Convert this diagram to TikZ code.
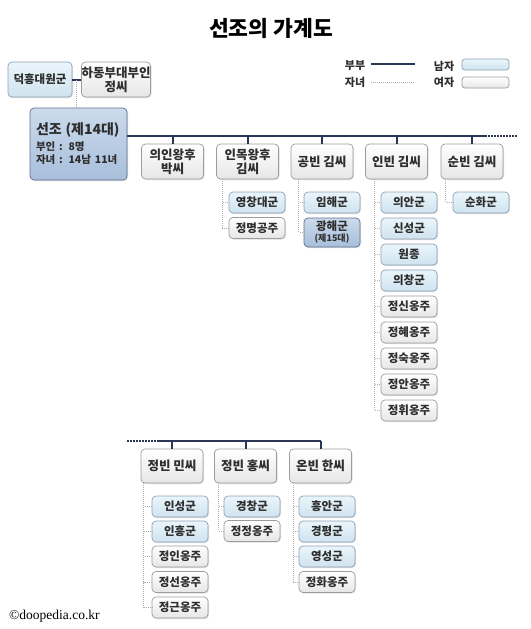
\documentclass[tikz,border=0pt]{standalone}
\usepackage{fontspec}
\setmainfont{Noto Sans CJK KR}
\newfontfamily\latinserif{Liberation Serif}
\usetikzlibrary{shadows,calc}
\definecolor{navy}{HTML}{2B3656}
\definecolor{txt}{HTML}{2E2E2E}
\definecolor{maletop}{HTML}{EAF5FB}
\definecolor{malebot}{HTML}{CFE3EF}
\definecolor{maledraw}{HTML}{8FA2B6}
\definecolor{femtop}{HTML}{FFFFFF}
\definecolor{fembot}{HTML}{E6E6E6}
\definecolor{femdraw}{HTML}{9C9C9C}
\definecolor{kingtop}{HTML}{CCDBEC}
\definecolor{kingbot}{HTML}{A8BEDB}
\definecolor{kingdraw}{HTML}{5F7291}
\definecolor{dotgray}{HTML}{B0B0B0}
\begin{document}
\begin{tikzpicture}[x=1pt,y=-1pt,
  font=\bfseries\fontsize{11.5}{13}\selectfont, text=txt,
  box/.style={rounded corners=4pt, draw, line width=0.7pt, inner sep=0pt, align=center,
    drop shadow={shadow xshift=1pt, shadow yshift=-1pt, opacity=0.25}},
  male/.style={box, draw=maledraw, top color=maletop, bottom color=malebot, minimum width=56, minimum height=21},
  female/.style={box, draw=femdraw, top color=femtop, bottom color=fembot, minimum width=56, minimum height=21},
  king/.style={box, draw=kingdraw, top color=kingtop, bottom color=kingbot},
  wife/.style={female, minimum width=62, minimum height=35, font=\bfseries\fontsize{12.5}{14}\selectfont},
  spouse/.style={draw=navy, line width=2pt},
  spousedot/.style={draw=navy, line width=1.6pt, dash pattern=on 1.6pt off 1.4pt},
  kid/.style={draw=dotgray, line width=0.8pt, dash pattern=on 1pt off 1pt},
  legbox/.style={rounded corners=3pt, draw, line width=0.7pt, minimum width=47, minimum height=11, inner sep=0pt},
  legtext/.style={font=\bfseries\fontsize{11}{12}\selectfont}
]
\useasboundingbox[fill=white] (0,0) rectangle (530,629);

% title
\node[font=\bfseries\fontsize{21.5}{24}\selectfont, text=black] (title) at (271,28) {선조의 가계도};

% legend
\node[legtext] (lg1) at (355,66) {부부};
\node[legtext] (lg2) at (355,82) {자녀};
\coordinate (lgs1) at (371,64); \coordinate (lgs2) at (415,64);
\coordinate (lgd1) at (371,82); \coordinate (lgd2) at (415,82);
\draw[spouse] (lgs1) -- (lgs2);
\draw[kid] (lgd1) -- (lgd2);
\node[legtext] (lg3) at (444,66) {남자};
\node[legtext] (lg4) at (444,82) {여자};
\node[legbox, draw=maledraw, top color=maletop, bottom color=malebot] (lgm) at (485.5,64.5) {};
\node[legbox, draw=femdraw, top color=femtop, bottom color=fembot] (lgf) at (485.5,82.5) {};

% parents
\node[male, minimum width=64, minimum height=35] (dh) at (40,79.5) {덕흥대원군};
\node[wife] (hd) at (116,79.5) {하동부대부인\\정씨};
\draw[spouse] (dh.east) -- (hd.west);
\coordinate (pm) at ($(dh.east)!0.5!(hd.west)$);

% Seonjo
\node[king, minimum width=97, minimum height=72, text width=85, align=left] (sj) at (78.5,144)
  {{\fontsize{14}{16}\selectfont 선조 (제14대)}\\[3pt]
   {\fontsize{10.5}{13}\selectfont 부인 : 8명}\\
   {\fontsize{10.5}{13}\selectfont 자녀 : 14남 11녀}};
\draw[kid] (pm) -- (pm |- sj.north);

% top spouse line
\coordinate (L) at (485,136);
\coordinate (Lend) at (517,136);
\draw[spouse] (sj.east |- L) -- (L);
\draw[spousedot] (L) -- (Lend);

% wives row 1
\node[wife] (w1) at (172.5,161.5) {의인왕후\\박씨};
\node[wife] (w2) at (247.5,161.5) {인목왕후\\김씨};
\node[wife] (w3) at (322,161.5) {공빈 김씨};
\node[wife] (w4) at (396.5,161.5) {인빈 김씨};
\node[wife] (w5) at (472,161.5) {순빈 김씨};
\foreach \w in {w1,w2,w3,w4,w5} \draw[spouse] (\w.north) -- (\w.north |- L);

% children of w2
\node[male] (c2a) at (257,202.5) {영창대군};
\node[female] (c2b) at (257,228) {정명공주};
\foreach \c in {c2a,c2b} \draw[kid] ([xshift=6pt]w2.south west) |- (\c.west);

% children of w3
\node[male] (c3a) at (332,202.5) {임해군};
\node[king, minimum width=56, minimum height=29] (c3b) at (332,232.5)
  {광해군\\[-2pt]{\fontsize{9}{10}\selectfont (제15대)}};
\foreach \c in {c3a,c3b} \draw[kid] ([xshift=8pt]w3.south west) |- (\c.west);

% children of w4
\node[male] (c4a) at (409,202.5) {의안군};
\node[male] (c4b) at (409,228.5) {신성군};
\node[male] (c4c) at (409,254.5) {원종};
\node[male] (c4d) at (409,280.5) {의창군};
\node[female] (c4e) at (409,306.5) {정신옹주};
\node[female] (c4f) at (409,332.5) {정혜옹주};
\node[female] (c4g) at (409,358.5) {정숙옹주};
\node[female] (c4h) at (409,384.5) {정안옹주};
\node[female] (c4i) at (409,410.5) {정휘옹주};
\foreach \c in {c4a,c4b,c4c,c4d,c4e,c4f,c4g,c4h,c4i} \draw[kid] ([xshift=9pt]w4.south west) |- (\c.west);

% children of w5
\node[male] (c5a) at (481,202.5) {순화군};
\draw[kid] ([xshift=5pt]w5.south west) |- (c5a.west);

% bottom spouse line
\coordinate (B0) at (127,441);
\coordinate (B1) at (157,441);
\node[wife, minimum height=34] (b1) at (172,466) {정빈 민씨};
\node[wife, minimum height=34] (b2) at (245.5,466) {정빈 홍씨};
\node[wife, minimum height=34] (b3) at (320.5,466) {온빈 한씨};
\draw[spousedot] (B0) -- (B1);
\draw[spouse] (B1) -- (b3.north |- B1);
\foreach \w in {b1,b2,b3} \draw[spouse] (\w.north) -- (\w.north |- B1);

% children of b1
\node[male] (d1a) at (180,506.5) {인성군};
\node[male] (d1b) at (180,531.5) {인흥군};
\node[female] (d1c) at (180,556.5) {정인옹주};
\node[female] (d1d) at (180,582) {정선옹주};
\node[female] (d1e) at (180,607.5) {정근옹주};
\foreach \c in {d1a,d1b,d1c,d1d,d1e} \draw[kid] ([xshift=3pt]b1.south west) |- (\c.west);

% children of b2
\node[male] (d2a) at (252,506.5) {경창군};
\node[female] (d2b) at (252,531) {정정옹주};
\foreach \c in {d2a,d2b} \draw[kid] ([xshift=4pt]b2.south west) |- (\c.west);

% children of b3
\node[male] (d3a) at (327,506.5) {흥안군};
\node[male] (d3b) at (327,531.5) {경평군};
\node[male] (d3c) at (327,556.5) {영성군};
\node[female] (d3d) at (327,582) {정화옹주};
\foreach \c in {d3a,d3b,d3c,d3d} \draw[kid] ([xshift=4pt]b3.south west) |- (\c.west);

% copyright
\node[anchor=west, font=\latinserif\fontsize{13.5}{15}\selectfont, text=black, inner sep=0pt] (copy) at (9,616) {©doopedia.co.kr};
\end{tikzpicture}
\end{document}
